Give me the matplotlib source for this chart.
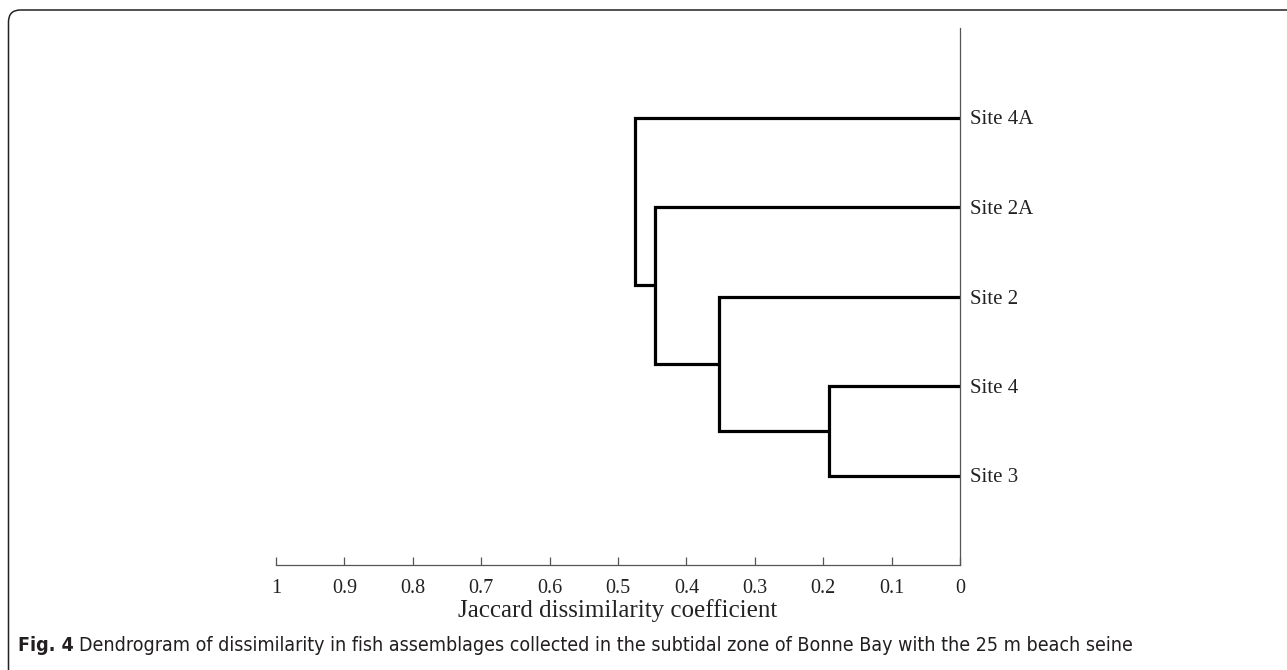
import numpy as np
import matplotlib.pyplot as plt
from matplotlib import font_manager
from matplotlib.patches import FancyBboxPatch
from matplotlib.transforms import IdentityTransform

# sites from bottom to top of the tree
sites = ['Site 3', 'Site 4', 'Site 2', 'Site 2A', 'Site 4A']
# linkage rows: (cluster a, cluster b, Jaccard dissimilarity at merge)
merges = [(0, 1, 0.192),
          (5, 2, 0.352),
          (6, 3, 0.446),
          (7, 4, 0.475)]
xticks = [1, 0.9, 0.8, 0.7, 0.6, 0.5, 0.4, 0.3, 0.2, 0.1, 0]
xtick_labels = ['1', '0.9', '0.8', '0.7', '0.6', '0.5', '0.4', '0.3', '0.2', '0.1', '0']

serif = 'Liberation Serif'
names = {f.name for f in font_manager.fontManager.ttflist}
if 'Liberation Sans Narrow' in names:
    cap_font = dict(family='Liberation Sans Narrow')
else:
    cap_font = dict(family='DejaVu Sans', stretch='condensed')

fig = plt.figure(figsize=(12.87, 6.70), dpi=100)
ax = fig.add_axes([276 / 1287, 105 / 670, 684 / 1287, 537 / 670])

# dendrogram: walk the linkage and draw each U link
ypos = {i: i + 1.0 for i in range(len(sites))}
height = {i: 0.0 for i in range(len(sites))}
for k, (a, b, h) in enumerate(merges):
    node = len(sites) + k
    xs = [height[a], h, h, height[b]]
    ys = [ypos[a], ypos[a], ypos[b], ypos[b]]
    ax.plot(xs, ys, color='black', lw=2.3, solid_joinstyle='miter',
            solid_capstyle='butt')
    ypos[node] = (ypos[a] + ypos[b]) / 2
    height[node] = h

ax.set_xlim(1, 0)
ax.set_ylim(0, 6)
ax.spines['left'].set_visible(False)
ax.spines['top'].set_visible(False)
for s in ['right', 'bottom']:
    ax.spines[s].set_color('#555555')
    ax.spines[s].set_linewidth(0.9)

ax.set_xticks(xticks)
ax.set_xticklabels(xtick_labels, family=serif, fontsize=14.5, color='#222222')
ax.tick_params(axis='x', direction='in', length=6, width=0.9,
               color='#555555', pad=10)
ax.yaxis.tick_right()
ax.set_yticks([ypos[i] for i in range(len(sites))])
ax.set_yticklabels(sites, family=serif, fontsize=15, color='#222222')
ax.tick_params(axis='y', length=0, pad=7)
ax.set_xlabel('Jaccard dissimilarity coefficient', family=serif,
              fontsize=18, color='#222222', labelpad=1)

# caption
t1 = fig.text(18 / 1287, 15 / 670, 'Fig. 4', fontsize=14,
              weight='bold', color='#231f20', va='bottom', **cap_font)
ax.annotate('Dendrogram of dissimilarity in fish assemblages collected in the '
            'subtidal zone of Bonne Bay with the 25 m beach seine',
            xy=(1, 0), xycoords=t1, xytext=(4, 0), textcoords='offset points',
            fontsize=14, color='#231f20', va='bottom', ha='left',
            annotation_clip=False, **cap_font)

# frame around the figure panel
frame = FancyBboxPatch((8.5, -40), 1400, 700, boxstyle='round,pad=0,rounding_size=12',
                       transform=IdentityTransform(), fill=False,
                       edgecolor='#222222', lw=1.1)
fig.patches.append(frame)

fig.savefig('out.png', dpi=100)
